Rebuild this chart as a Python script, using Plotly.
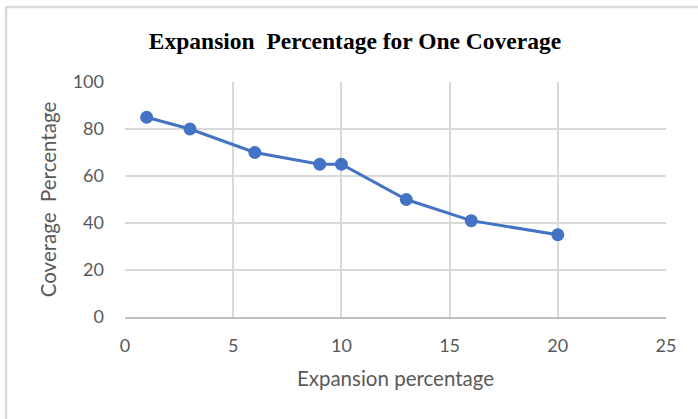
import plotly.graph_objects as go

# Expansion percentage vs. coverage percentage for a single coverage run
expansion_pct = [1, 3, 6, 9, 10, 13, 16, 20]
coverage_pct = [85, 80, 70, 65, 65, 50, 41, 35]

x_ticks = [0, 5, 10, 15, 20, 25]
y_ticks = [0, 20, 40, 60, 80, 100]

LINE_BLUE = "#4472C4"
GRID_GRAY = "#D9D9D9"
TEXT_GRAY = "#595959"

W, H = 698, 419
ML, MR, MT, MB = 125, 32, 82, 102

fig = go.Figure()
fig.add_trace(go.Scatter(
    x=expansion_pct,
    y=coverage_pct,
    mode="lines+markers",
    line=dict(color=LINE_BLUE, width=3),
    marker=dict(color=LINE_BLUE, size=13),
    showlegend=False,
))

pw = W - ML - MR
ph = H - MT - MB

# outer chart frame (top and left edges)
fig.add_shape(type="line", xref="paper", yref="paper",
              x0=(6 - ML) / pw, x1=(W - ML) / pw,
              y0=(H - MB - 7) / ph, y1=(H - MB - 7) / ph,
              line=dict(color="#D9D9D9", width=2.5))
fig.add_shape(type="line", xref="paper", yref="paper",
              x0=(6 - ML) / pw, x1=(6 - ML) / pw,
              y0=(H - MB - 7) / ph, y1=(H - MB - H - 2) / ph,
              line=dict(color="#D9D9D9", width=2.5))

fig.update_layout(
    width=W,
    height=H,
    margin=dict(l=ML, r=MR, t=MT, b=MB),
    paper_bgcolor="white",
    plot_bgcolor="white",
    title=dict(
        text="<b>Expansion  Percentage for One Coverage</b>",
        font=dict(family="Liberation Serif", size=23.5, color="black"),
        x=(355) / W,
        xanchor="center",
        y=1 - 41 / H,
        yanchor="middle",
    ),
    xaxis=dict(
        range=[0, 25],
        tickvals=x_ticks,
        showgrid=True,
        gridcolor=GRID_GRAY,
        gridwidth=2,
        showline=True,
        linecolor="#BFBFBF",
        linewidth=2,
        zeroline=False,
        ticks="",
        ticklabelstandoff=11,
        tickfont=dict(family="Lato", size=18, color=TEXT_GRAY),
        title=dict(text="Expansion percentage",
                   font=dict(family="Lato", size=20.5, color=TEXT_GRAY),
                   standoff=17),
    ),
    yaxis=dict(
        range=[0, 100],
        tickvals=y_ticks,
        showgrid=True,
        gridcolor=GRID_GRAY,
        gridwidth=2,
        showline=False,
        zeroline=False,
        ticks="",
        ticklabelstandoff=20,
        tickfont=dict(family="Lato", size=18, color=TEXT_GRAY),
        title=dict(text="Coverage  Percentage",
                   font=dict(family="Lato", size=20.5, color=TEXT_GRAY),
                   standoff=10),
    ),
)

fig.write_html("out.html")
